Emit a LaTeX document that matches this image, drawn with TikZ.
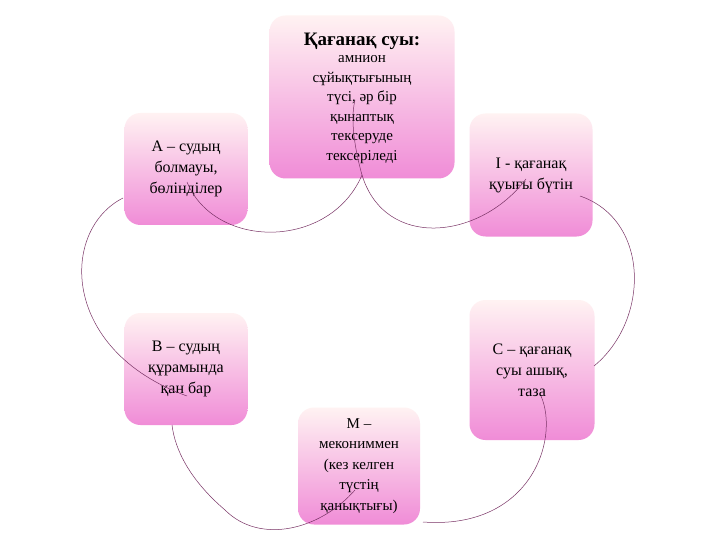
\documentclass[tikz,border=0pt]{standalone}
\usepackage{fontspec}
\setmainfont{Liberation Serif}
\begin{document}
\begin{tikzpicture}[x=1pt,y=-1pt,
  box/.style={rounded corners=16pt,top color=pink!20!white,bottom color={rgb,255:red,240;green,140;blue,215},
     draw=none,inner sep=2pt,align=center,font=\fontsize{16}{21}\selectfont},
  link/.style={draw={rgb,255:red,120;green,50;blue,100},line width=0.5pt}]
\useasboundingbox[fill=white] (0,0) rectangle (720,540);
\node[box,minimum width=185pt,minimum height=163pt] (top) at (362,97) {};
\node[font=\fontsize{19}{22}\selectfont\bfseries] (title) at (362,41) {Қағанақ суы:};
\node[align=center,font=\fontsize{15}{19.5}\selectfont,anchor=north] (tt) at (362,52)
  {амнион\\сұйықтығының\\түсі, әр бір\\қынаптық\\тексеруде\\тексеріледі};
\node[box,minimum width=123pt,minimum height=112pt] (A) at (186,169) {А – судың\\болмауы,\\бөлінділер};
\node[box,minimum width=123pt,minimum height=123pt] (I) at (531,175) {І - қағанақ\\қуығы бүтін};
\node[box,minimum width=123pt,minimum height=112pt] (B) at (186,369) {В – судың\\құрамында\\қан бар};
\node[box,minimum width=125pt,minimum height=140pt] (C) at (532,370) {С – қағанақ\\суы ашық,\\таза};
\node[box,minimum width=122pt,minimum height=117pt,font=\fontsize{15}{20.5}\selectfont] (M) at (359,466) {М –\\мекониммен\\(кез келген\\түстің\\қанықтығы)};
\coordinate (a1) at (187,182);
\coordinate (t1) at (355,100);
\coordinate (t2) at (362,175);
\coordinate (i1) at (526,179);
\coordinate (i2) at (580,196);
\coordinate (c1) at (594,366);
\coordinate (c2) at (541,396);
\coordinate (m1) at (423,522);
\coordinate (m2) at (355,490);
\coordinate (b1) at (172,425);
\coordinate (b2) at (187,396);
\coordinate (a2) at (123,198);
\draw[link] (a1) .. controls (215,250) and (330,250) .. (t2) .. controls (355,150) and (350,120) .. (t1);
\draw[link] (t2) .. controls (385,250) and (480,240) .. (i1);
\draw[link] (i2) .. controls (650,220) and (650,320) .. (c1);
\draw[link] (c2) .. controls (560,440) and (530,530) .. (m1);
\draw[link] (m2) .. controls (320,530) and (260,545) .. (225,510) .. controls (190,480) and (175,450) .. (b1);
\draw[link] (b2) .. controls (60,350) and (60,230) .. (a2);
\end{tikzpicture}
\end{document}
